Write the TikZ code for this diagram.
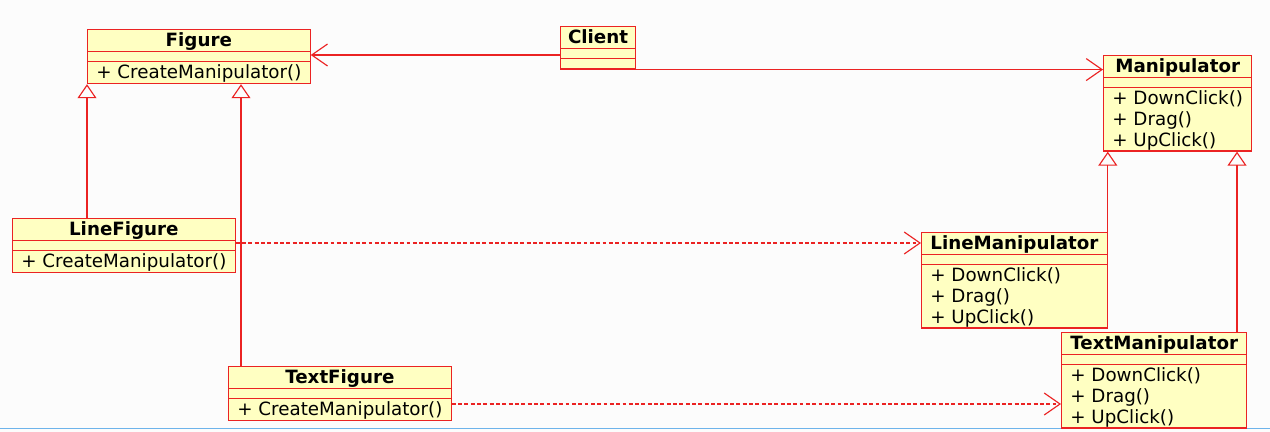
\documentclass[tikz,border=0pt]{standalone}
\usepackage{fontspec}
\setmainfont{DejaVu Sans}
\definecolor{umlred}{RGB}{235, 35, 35}
\definecolor{umlfill}{RGB}{255, 255, 194}
\definecolor{paper}{RGB}{252, 252, 252}
\definecolor{edgeblue}{RGB}{110, 180, 235}
\usetikzlibrary{shapes.multipart, arrows.meta, positioning, calc}
\newcommand\ustrut{\rule[-2.3pt]{0pt}{11.8pt}}
\newcommand\op[1]{\hbox{#1\ustrut}}
\newcommand\ops[1]{\vbox{\offinterlineskip#1}}
\newcommand\gap{\rule{0pt}{5.2pt}}

\begin{document}
\begin{tikzpicture}[
  x=0.02cm, y=-0.02cm,
  cls/.style={draw=umlred, fill=umlfill, line width=0.65pt, rectangle split, rectangle split parts=3,
    rectangle split part align={center,left,left}, anchor=north west,
    inner xsep=5pt, inner ysep=0pt, font=\fontsize{10.4}{11.8}\selectfont},
  assoc/.style={draw=umlred, line width=0.65pt, -{Straight Barb[length=9pt, width=12.5pt]}},
  dep/.style={assoc, dash pattern=on 2.2pt off 1.4pt},
  gen/.style={draw=umlred, line width=0.65pt, -{Triangle[open, length=8pt, width=10.8pt]}}
]
  \fill[paper] (0,0) rectangle (1270,432);
  \useasboundingbox (0,0) rectangle (1270,432);
  \draw[edgeblue, line width=0.6pt] (0,428.5) -- (1270,428.5);

  % classes
  \node[cls, minimum width=4.40cm] (figure) at (87,29)
    {\textbf{Figure}\ustrut\nodepart{two}\gap\nodepart{three}\op{+ CreateManipulator()}};
  \node[cls, minimum width=1.50cm, inner xsep=4pt] (client) at (560,26)
    {\textbf{Client}\ustrut\nodepart{two}\gap\nodepart{three}\gap};
  \node[cls, minimum width=2.90cm] (manipulator) at (1103,55)
    {\textbf{Manipulator}\ustrut\nodepart{two}\gap\nodepart{three}\ops{\op{+ DownClick()}\op{+ Drag()}\op{+ UpClick()}}};
  \node[cls, minimum width=4.40cm] (linefigure) at (12,218)
    {\textbf{LineFigure}\ustrut\nodepart{two}\gap\nodepart{three}\op{+ CreateManipulator()}};
  \node[cls, minimum width=3.68cm] (linemanip) at (921,232)
    {\textbf{LineManipulator}\ustrut\nodepart{two}\gap\nodepart{three}\ops{\op{+ DownClick()}\op{+ Drag()}\op{+ UpClick()}}};
  \node[cls, minimum width=4.42cm] (textfigure) at (228,366)
    {\textbf{TextFigure}\ustrut\nodepart{two}\gap\nodepart{three}\op{+ CreateManipulator()}};
  \node[cls, minimum width=3.68cm] (textmanip) at (1061,332)
    {\textbf{TextManipulator}\ustrut\nodepart{two}\gap\nodepart{three}\ops{\op{+ DownClick()}\op{+ Drag()}\op{+ UpClick()}}};

  % associations
  \draw[assoc] (client.west |- 0,55) -- (figure.east |- 0,55);
  \draw[assoc] (client.south east) -- (manipulator.west |- client.south east);

  % generalizations
  \draw[gen] (linefigure.north -| 87,0) -- (figure.south -| 87,0);
  \draw[gen] (textfigure.north -| 241,0) -- (figure.south -| 241,0);
  \draw[gen] (linemanip.north east) -- (linemanip.north east |- manipulator.south);
  \draw[gen] (textmanip.north -| 1237,0) -- (manipulator.south -| 1237,0);

  % dependencies
  \draw[dep] (linefigure.east |- 0,243) -- (linemanip.west |- 0,243);
  \draw[dep] (textfigure.east |- 0,404) -- (textmanip.west |- 0,404);
\end{tikzpicture}
\end{document}
